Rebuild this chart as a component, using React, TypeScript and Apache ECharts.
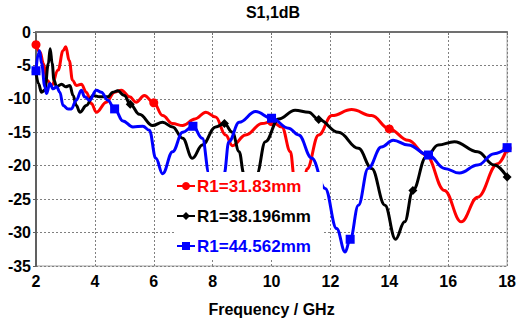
import { useEffect, useRef } from 'react';
import * as echarts from 'echarts';

const titleText = 'S1,1dB';
const xAxisName = 'Frequency / GHz';
const seriesNames = ['R1=31.83mm', 'R1=38.196mm', 'R1=44.562mm'];
const seriesColors = ['#ff0000', '#000000', '#0000ff'];
const seriesSymbols = ['circle', 'diamond', 'rect'];

const redFreq = [2.0, 2.14, 2.25, 2.38, 2.53, 2.75, 2.92, 3.01, 3.13, 3.24, 3.37, 3.54, 3.71, 3.88, 4.05, 4.39, 4.67, 4.9, 5.18, 5.4, 5.68, 6.0, 6.3, 6.64, 6.98, 7.4, 7.77, 8.1, 8.44, 8.67, 9.12, 9.68, 10.0, 10.35, 10.64, 10.78, 10.95, 11.1, 11.2, 11.6, 12.05, 12.72, 13.4, 14.0, 14.64, 15.25, 15.87, 16.44, 17.0, 17.68, 18.0];
const redDb = [-1.9, -3.0, -4.7, -7.2, -8.0, -5.7, -2.8, -2.2, -4.3, -7.2, -8.0, -7.8, -9.0, -10.7, -12.0, -10.5, -9.0, -8.7, -9.7, -10.5, -9.5, -10.6, -12.5, -13.7, -14.0, -13.0, -12.0, -12.7, -15.4, -17.0, -15.4, -13.7, -13.4, -14.2, -17.9, -22.0, -27.0, -22.5, -20.5, -15.4, -12.5, -11.6, -12.5, -14.5, -16.2, -18.4, -23.7, -28.4, -24.7, -19.7, -17.4];
const redMarkers = [2, 6, 10, 14, 18];

const blackFreq = [2.0, 2.08, 2.19, 2.3, 2.42, 2.48, 2.55, 2.61, 2.7, 2.87, 3.01, 3.15, 3.26, 3.37, 3.49, 3.71, 3.94, 4.16, 4.44, 4.61, 4.78, 5.0, 5.2, 5.51, 5.96, 6.3, 6.64, 6.98, 7.31, 7.65, 8.1, 8.4, 8.67, 8.9, 9.06, 9.28, 9.5, 9.79, 10.24, 10.8, 11.26, 11.6, 12.27, 12.95, 13.4, 13.85, 14.21, 14.52, 14.8, 15.25, 15.66, 16.21, 17.0, 17.56, 18.0];
const blackDb = [-6.0, -7.7, -9.0, -8.7, -4.7, -2.5, -4.7, -7.2, -8.2, -7.8, -8.2, -8.0, -9.5, -11.0, -12.0, -11.0, -9.5, -9.7, -9.7, -9.0, -8.8, -9.5, -10.8, -12.3, -14.0, -13.5, -14.2, -15.9, -18.9, -16.9, -14.2, -13.7, -15.0, -17.9, -21.2, -27.0, -21.2, -16.4, -13.0, -11.7, -12.0, -13.1, -15.0, -17.4, -20.4, -25.9, -31.0, -28.4, -23.7, -18.7, -16.9, -16.4, -17.9, -19.9, -21.7];
const blackMarkers = [2, 5.2, 8.4, 11.6, 14.8, 18];

const blueFreq = [2.0, 2.08, 2.12, 2.19, 2.3, 2.36, 2.47, 2.58, 2.7, 2.81, 2.92, 3.09, 3.2, 3.37, 3.54, 3.65, 3.82, 4.05, 4.22, 4.44, 4.67, 4.95, 5.29, 5.63, 5.85, 6.07, 6.3, 6.64, 6.98, 7.33, 7.65, 7.88, 8.13, 8.39, 8.55, 8.9, 9.46, 10.0, 10.58, 10.92, 11.37, 11.82, 12.21, 12.5, 12.67, 12.95, 13.28, 13.73, 14.13, 14.64, 15.33, 15.87, 16.38, 17.0, 17.56, 18.0];
const blueDb = [-5.8, -3.2, -2.8, -4.7, -8.2, -9.2, -7.7, -8.5, -8.2, -9.0, -11.0, -11.5, -11.5, -10.2, -8.7, -9.7, -10.2, -8.7, -9.0, -10.2, -11.5, -13.3, -14.2, -14.1, -14.7, -18.9, -21.2, -17.9, -15.0, -14.1, -15.9, -21.2, -26.0, -21.2, -16.4, -13.5, -11.9, -12.9, -14.4, -15.4, -18.9, -23.4, -29.4, -32.9, -31.0, -25.9, -20.4, -17.2, -16.2, -16.9, -18.4, -20.4, -21.1, -19.9, -18.2, -17.3];
const blueMarkers = [2, 4.67, 7.33, 10, 12.67, 15.33, 18];

const xMin = 2;
const xMax = 18;
const xStep = 2;
const yMin = -35;
const yMax = 0;
const yStep = 5;

const FONT = 'Liberation Sans';

function buildData(freq: number[], db: number[], markers: number[]) {
  return freq.map((f, i) =>
    markers.some((m) => Math.abs(m - f) < 1e-6)
      ? { value: [f, db[i]] }
      : { value: [f, db[i]], symbol: 'none' }
  );
}

export default function App() {
  const ref = useRef<HTMLDivElement>(null);
  useEffect(() => {
    if (!ref.current) return;
    document.body.style.margin = '0';
    const chart = echarts.init(ref.current, undefined, { renderer: 'svg' });
    const datasets = [
      buildData(redFreq, redDb, redMarkers),
      buildData(blackFreq, blackDb, blackMarkers),
      buildData(blueFreq, blueDb, blueMarkers),
    ];
    const symbolSizes = [9, 9, 9];
    chart.setOption({
      animation: false,
      backgroundColor: '#ffffff',
      graphic: [
        {
          type: 'text',
          x: 273,
          y: 4,
          style: {
            text: titleText,
            font: `bold 16px "${FONT}"`,
            fill: '#000',
            textAlign: 'center',
            textVerticalAlign: 'top',
          },
        },
      ],
      grid: {
        left: 36,
        right: 9,
        top: 32,
        bottom: 58,
        show: true,
        borderColor: '#a0a0a0',
        borderWidth: 1,
        backgroundColor: 'transparent',
      },
      legend: {
        orient: 'vertical',
        left: 174,
        top: 172,
        z: 20,
        padding: [4, 12, 4, 2],
        backgroundColor: '#ffffff',
        itemWidth: 18,
        itemHeight: 10,
        itemGap: 10,
        data: seriesNames.map((n, i) => ({
          name: n,
          textStyle: { color: seriesColors[i] },
        })),
        textStyle: {
          fontFamily: FONT,
          fontWeight: 'bold',
          fontSize: 17,
          lineHeight: 20,
          padding: [0, 0, 0, -3],
        },
      },
      xAxis: {
        type: 'value',
        min: xMin,
        max: xMax,
        interval: xStep,
        name: xAxisName,
        nameLocation: 'middle',
        nameGap: 35,
        nameTextStyle: {
          fontFamily: FONT,
          fontWeight: 'bold',
          fontSize: 16,
          color: '#000',
        },
        axisLine: { show: true, lineStyle: { color: '#707070', width: 2 } },
        axisTick: { show: true, length: 3, lineStyle: { color: '#707070', width: 1 } },
        axisLabel: {
          fontFamily: FONT,
          fontWeight: 'bold',
          fontSize: 16,
          color: '#000',
          margin: 7,
        },
        splitLine: {
          show: true,
          lineStyle: { color: '#808080', type: [2, 2], width: 1 },
        },
      },
      yAxis: {
        type: 'value',
        min: yMin,
        max: yMax,
        interval: yStep,
        axisLine: { show: true, lineStyle: { color: '#606060', width: 2 } },
        axisTick: { show: true, length: 3, lineStyle: { color: '#606060', width: 1 } },
        axisLabel: {
          fontFamily: FONT,
          fontWeight: 'bold',
          fontSize: 16,
          color: '#000',
          margin: 5,
        },
        splitLine: {
          show: true,
          lineStyle: { color: '#808080', type: [2, 2], width: 1 },
        },
      },
      series: seriesNames.map((n, i) => ({
        name: n,
        type: 'line',
        data: datasets[i],
        smooth: 0.4,
        smoothMonotone: 'x',
        symbol: seriesSymbols[i],
        symbolSize: symbolSizes[i],
        showSymbol: true,
        clip: true,
        lineStyle: { color: seriesColors[i], width: 3 },
        itemStyle: { color: seriesColors[i] },
        z: 2 + i,
      })),
    });
    return () => chart.dispose();
  }, []);
  return <div ref={ref} style={{ width: 519, height: 324 }} />;
}
